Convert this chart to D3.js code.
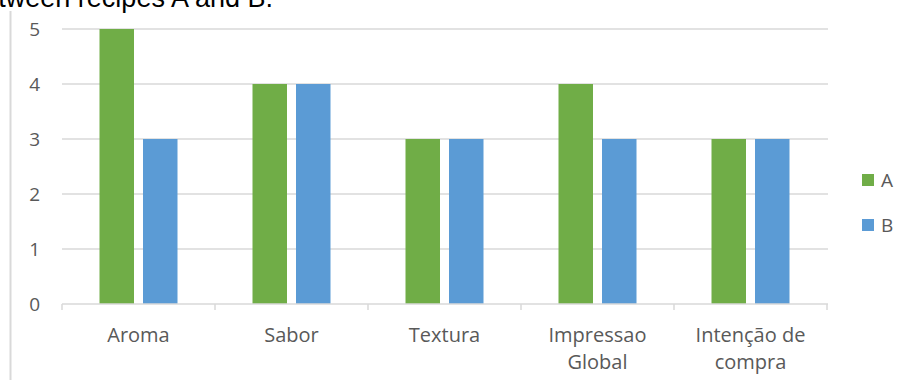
<!DOCTYPE html>
<html>
<head>
<meta charset="utf-8">
<script src="https://cdn.jsdelivr.net/npm/d3@7"></script>
<style>
  html, body { margin: 0; padding: 0; background: #ffffff; overflow: hidden; }
  svg { display: block; }
</style>
</head>
<body>
<svg id="chart" width="909" height="380"></svg>
<script>
// Sensory scores per attribute for the two recipes
const categories = [["Aroma"], ["Sabor"], ["Textura"], ["Impressao", "Global"], ["Intenção de", "compra"]];
const seriesNames = ["A", "B"];
const valuesA = [5, 4, 3, 4, 3];
const valuesB = [3, 4, 3, 3, 3];
const yTicks = [0, 1, 2, 3, 4, 5];
const colors = { A: "#70ad47", B: "#5b9bd5" };

const svg = d3.select("#chart");
const gridColor = "#d9d9d9";
const labelColor = "#595959";
const labelFont = "'Open Sans', sans-serif";

// Caption line above the chart, running off the top-left edge
svg.append("text")
  .attr("x", 273)
  .attr("y", 7)
  .attr("text-anchor", "end")
  .attr("font-family", "'Liberation Sans', Arial, sans-serif")
  .attr("font-size", 27)
  .attr("fill", "#000")
  .text("between recipes A and B.");

// Thin frame line along the left side
svg.append("line")
  .attr("x1", 10.5).attr("x2", 10.5)
  .attr("y1", 11).attr("y2", 380)
  .attr("stroke", gridColor)
  .attr("stroke-width", 2);

const keys = categories.map(c => c.join(" "));
const x0 = d3.scaleBand().domain(keys).range([62, 827]).padding(0);
const groupWidth = 78;
const x1 = d3.scaleBand().domain(seriesNames).range([0, groupWidth]).paddingInner(9 / 43.5).paddingOuter(0);
const y = d3.scaleLinear().domain([0, 5]).range([304, 29]);

// Horizontal gridlines
svg.append("g")
  .selectAll("line")
  .data(yTicks.filter(t => t > 0))
  .join("line")
  .attr("x1", 62).attr("x2", 828)
  .attr("y1", d => y(d)).attr("y2", d => y(d))
  .attr("stroke", gridColor)
  .attr("stroke-width", 1.5);

// Y axis labels
const yAxis = d3.axisLeft(y).tickValues(yTicks).tickSize(0).tickPadding(0).tickFormat(d3.format("d"));
const yG = svg.append("g").attr("transform", "translate(40,0)").call(yAxis);
yG.select(".domain").remove();
yG.selectAll("text")
  .attr("font-family", labelFont)
  .attr("font-size", 19)
  .attr("fill", labelColor)
  .attr("dy", "0.35em");

// Bars
const rows = keys.map((k, i) => ({ key: k, A: valuesA[i], B: valuesB[i] }));
const groups = svg.append("g")
  .selectAll("g")
  .data(rows)
  .join("g")
  .attr("transform", d => `translate(${x0(d.key) + (x0.bandwidth() - groupWidth) / 2},0)`);
groups.selectAll("rect")
  .data(d => seriesNames.map(s => ({ s, v: d[s] })))
  .join("rect")
  .attr("x", d => x1(d.s))
  .attr("width", x1.bandwidth())
  .attr("y", d => y(d.v))
  .attr("height", d => y(0) - y(d.v))
  .attr("fill", d => colors[d.s]);

// Category axis with boundary tick marks
const axisY = y(0);
svg.append("line")
  .attr("x1", 62).attr("x2", 828)
  .attr("y1", axisY).attr("y2", axisY)
  .attr("stroke", gridColor)
  .attr("stroke-width", 1.5);
const bounds = keys.map(k => x0(k)).concat([x0.range()[1]]);
svg.append("g")
  .selectAll("line")
  .data(bounds)
  .join("line")
  .attr("x1", d => d).attr("x2", d => d)
  .attr("y1", axisY).attr("y2", axisY + 6)
  .attr("stroke", gridColor)
  .attr("stroke-width", 1.5);

// Category labels (wrapped onto two lines where needed)
const catLabels = svg.append("g")
  .selectAll("text")
  .data(categories.map((c, i) => ({ lines: c, key: keys[i] })))
  .join("text")
  .attr("text-anchor", "middle")
  .attr("font-family", labelFont)
  .attr("font-size", 20)
  .attr("fill", labelColor);
catLabels.selectAll("tspan")
  .data(d => d.lines.map((l, j) => ({ l, j, key: d.key })))
  .join("tspan")
  .attr("x", d => x0(d.key) + x0.bandwidth() / 2)
  .attr("y", d => 342 + d.j * 27)
  .text(d => d.l);

// Legend
const legend = svg.append("g")
  .selectAll("g")
  .data(seriesNames)
  .join("g")
  .attr("transform", (d, i) => `translate(862,${174 + i * 45})`);
legend.append("rect")
  .attr("width", 12).attr("height", 12)
  .attr("fill", d => colors[d]);
legend.append("text")
  .attr("x", 19)
  .attr("y", 13)
  .attr("font-family", labelFont)
  .attr("font-size", 19)
  .attr("fill", labelColor)
  .text(d => d);
</script>
</body>
</html>
